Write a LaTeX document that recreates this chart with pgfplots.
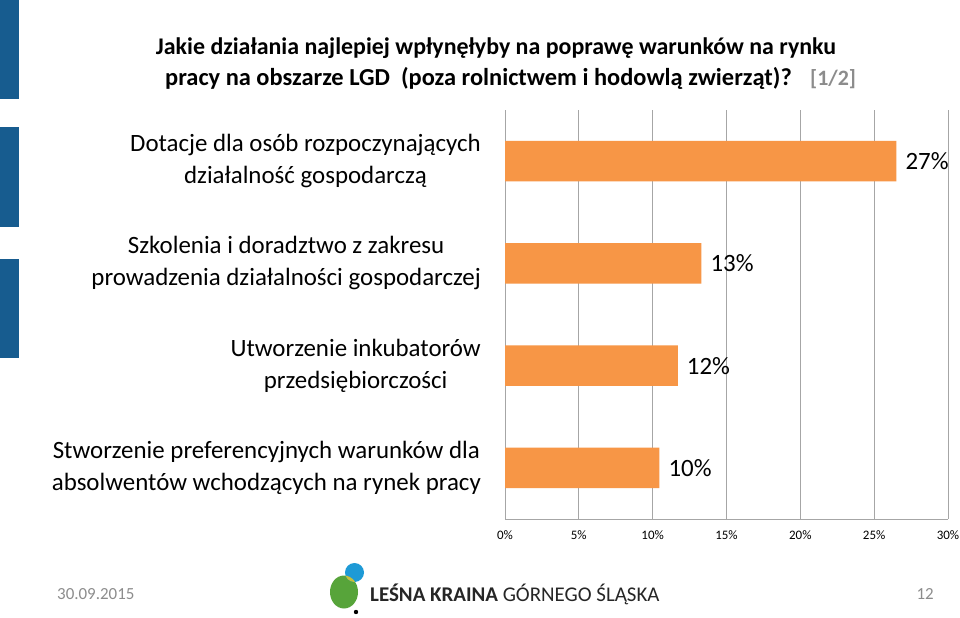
\documentclass[border=0pt]{standalone}
\usepackage{pgfplots}
\pgfplotsset{compat=1.18}
\usepackage{fontspec}
\setmainfont{Carlito}
\definecolor{barorange}{HTML}{F79646}
\definecolor{slideblue}{HTML}{175C8F}
\definecolor{gridgray}{HTML}{A6A6A6}
\definecolor{txtgray}{HTML}{8C8C8C}
\definecolor{logogreen}{HTML}{57A43A}
\definecolor{logoblue}{HTML}{1E9AD6}
\definecolor{logoyellow}{HTML}{C8C03A}
\begin{document}
\begin{tikzpicture}[x=1bp,y=1bp]
\useasboundingbox (0,0) rectangle (960,-618);
\fill[white] (0,0) rectangle (960,-618);
\fill[slideblue] (0,0) rectangle (19,-99);
\fill[slideblue] (0,-127) rectangle (19,-227);
\fill[slideblue] (0,-259) rectangle (19,-358);
\node[anchor=base, font=\fontsize{24}{28}\selectfont\bfseries, inner sep=0pt] at (496bp,-55bp)
  {Jakie działania najlepiej wpłynęłyby na poprawę warunków na rynku};
\node[anchor=base west, font=\fontsize{24.5}{28}\selectfont\bfseries, inner sep=0pt] at (165bp,-86bp)
  {pracy na obszarze LGD\ \ (poza rolnictwem i hodowlą zwierząt)?};
\node[anchor=base west, font=\fontsize{22}{26}\selectfont\bfseries, inner sep=0pt, text=txtgray] at (810bp,-86bp)
  {[1/2]};
\begin{axis}[
  at={(505bp,-519bp)}, anchor=south west,
  scale only axis, width=443bp, height=409bp,
  xmin=0, xmax=30, ymin=0.5, ymax=4.5, y dir=reverse,
  xbar, bar width=40.7bp,
  xtick={0,5,10,15,20,25,30},
  xticklabels={0\%,5\%,10\%,15\%,20\%,25\%,30\%},
  xticklabel style={font=\fontsize{13}{15}\selectfont, inner sep=0pt, yshift=-11bp},
  ytick={1,2,3,4},
  yticklabels={{Dotacje dla osób rozpoczynających\\działalność gospodarczą},
    {Szkolenia i doradztwo z zakresu\\prowadzenia działalności gospodarczej},
    {Utworzenie inkubatorów\\przedsiębiorczości},
    {Stworzenie preferencyjnych warunków dla\\absolwentów wchodzących na rynek pracy}},
  yticklabel style={align=center, font=\fontsize{25}{32}\selectfont, inner sep=0pt, xshift=-24bp},
  major tick length=0pt,
  axis x line*=bottom, axis y line*=left,
  axis line style={gridgray, line width=1pt},
  xmajorgrids, grid style={gridgray, line width=1pt},
  point meta=explicit symbolic,
  nodes near coords,
  nodes near coords style={font=\fontsize{25}{30}\selectfont, anchor=west, inner sep=0pt, xshift=9bp},
]
\addplot[fill=barorange, draw=none] coordinates {
  (26.5,1) [27\%]
  (13.3,2) [13\%]
  (11.7,3) [12\%]
  (10.45,4) [10\%]
};
\end{axis}
\node[anchor=west, font=\fontsize{17}{20}\selectfont, text=txtgray, inner sep=0pt] at (57bp,-594bp) {30.09.2015};
\node[anchor=east, font=\fontsize{17}{20}\selectfont, text=txtgray, inner sep=0pt] at (934bp,-594bp) {12};
\fill[logogreen] (344,-592) ellipse [x radius=14, y radius=16.5];
\fill[logoblue] (354.5,-572.5) circle [radius=9.5];
\begin{scope}
\clip (344,-592) ellipse [x radius=14, y radius=16.5];
\fill[logoyellow] (354.5,-572.5) circle [radius=9.5];
\end{scope}
\fill[black] (356,-612) circle [radius=2.2];
\node[anchor=west, font=\fontsize{21}{24}\selectfont, inner sep=0pt, text=black!85] at (370bp,-594bp) {\textbf{LEŚNA KRAINA} GÓRNEGO ŚLĄSKA};
\end{tikzpicture}
\end{document}
